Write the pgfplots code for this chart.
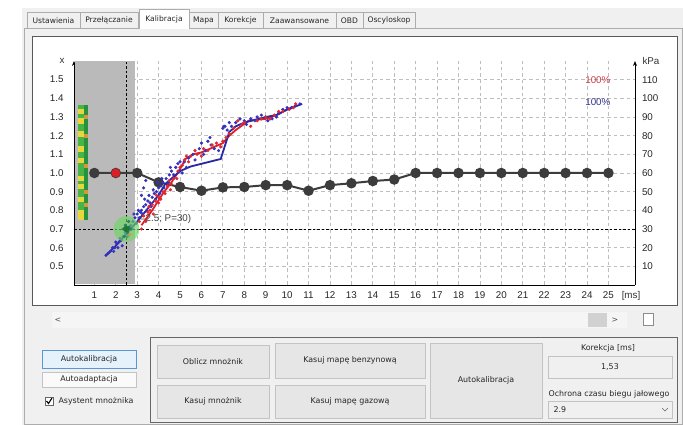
\documentclass[border=0pt]{standalone}
\usepackage{pgfplots}
\pgfplotsset{compat=1.18}
\usetikzlibrary{arrows.meta}
\usepackage{fontspec}
\setmainfont{Liberation Sans}
\newfontfamily\ui{DejaVu Sans}
\definecolor{uibg}{RGB}{240,240,240}
\definecolor{tabborder}{RGB}{172,172,172}
\definecolor{btnfill}{RGB}{230,230,230}
\definecolor{btnborder}{RGB}{195,195,195}
\definecolor{selfill}{RGB}{229,241,251}
\definecolor{selborder}{RGB}{90,150,210}
\definecolor{shade}{RGB}{186,186,186}
\definecolor{gridc}{RGB}{190,190,190}
\definecolor{curvered}{RGB}{220,30,40}
\definecolor{curveblue}{RGB}{40,40,165}
\definecolor{dotblue}{RGB}{50,50,190}
\definecolor{dotred}{RGB}{225,40,50}
\definecolor{darkser}{RGB}{60,60,60}
\definecolor{barg}{RGB}{70,180,70}
\definecolor{bargd}{RGB}{40,145,60}
\definecolor{bary}{RGB}{230,215,60}
\definecolor{baro}{RGB}{215,150,60}
\definecolor{circg}{RGB}{110,215,100}
\definecolor{circd}{RGB}{30,120,50}
\definecolor{teal1}{RGB}{40,130,100}
\definecolor{pctred}{RGB}{205,60,70}
\definecolor{pctblue}{RGB}{50,50,140}
\newcommand{\uif}{\ui\fontsize{7.9}{9}\selectfont}
\newcommand{\chf}{\fontsize{9.8}{11}\selectfont}
\begin{document}
\begin{tikzpicture}
\useasboundingbox (0,0) rectangle (683pt,425pt);
\fill[white] (0,0) rectangle (683pt,425pt);
\begin{scope}[x=1pt,y=-1pt,shift={(0pt,425pt)}]
 \fill[uibg] (22,8) rectangle (683,425);
 \draw[tabborder, fill=uibg] (24,28) rectangle (682,424);
 \foreach \a/\b/\t in {27/80/Ustawienia, 80/138/Przełączanie, 189/218/Mapa, 218/263/Korekcje, 263/336/Zaawansowane, 336/363/OBD, 363/415/Oscyloskop}{
   \draw[tabborder, fill=uibg] (\a,12) rectangle (\b,28);
   \node[font=\ui\fontsize{7.6}{9}\selectfont, text=black!85] at ({(\a+\b)/2},20.5) {\t};
 }
 \draw[tabborder, fill=white] (139,29) -- (139,9) -- (189,9) -- (189,29);
 \node[font=\ui\fontsize{7.6}{9}\selectfont, text=black!85] at (164,19) {Kalibracja};
 % chart panel
 \draw[black!65, line width=1pt, fill=white] (32,37) rectangle (677,306);
 \node[font=\chf, text=black!80] at (62,61) {x};
 \node[font=\chf, text=black!80, anchor=west] at (639,61) {kPa};
 \node[font=\chf, text=black!80] at (631,295.5) {[ms]};
 % scrollbar
 \fill[black!4] (52,312) rectangle (627,328);
 \fill[black!18] (588,313) rectangle (607,327);
 \node[font=\uif, text=black!70] at (58,320) {<};
 \node[font=\uif, text=black!70] at (615,320) {>};
 \draw[black!45, fill=white] (643,313) rectangle (653,325);
 % left buttons
 \draw[selborder, fill=selfill] (42,350) rectangle (136,368);
 \node[font=\uif, text=black!85] at (89,359) {Autokalibracja};
 \draw[btnborder, fill=black!2] (42,372) rectangle (136,387);
 \node[font=\uif, text=black!85] at (89,379.5) {Autoadaptacja};
 \draw[black!60, fill=white] (45,397) rectangle (53,405);
 \draw[black, line width=1.1pt] (46.5,401) -- (48.5,403.5) -- (52,398);
 \node[font=\uif, text=black!85, anchor=west] at (55,401) {Asystent mnożnika};
 % group box
 \draw[black!60, line width=0.9pt] (150,337) rectangle (677,422);
 \foreach \xa/\ya/\xb/\yb/\t in {157/345/269/378/Oblicz mnożnik, 157/385/269/418/Kasuj mnożnik, 275/343/425/378/Kasuj mapę benzynową, 275/385/425/418/Kasuj mapę gazową, 430/343/542/418/Autokalibracja}{
   \draw[btnborder, fill=btnfill] (\xa,\ya) rectangle (\xb,\yb);
   \node[font=\uif, text=black!85] at ({(\xa+\xb)/2},{(\ya+\yb)/2}) {\t};
 }
 \node[font=\uif, text=black!85] at (608,348) {Korekcja [ms]};
 \draw[btnborder, fill=uibg] (548,356) rectangle (672,378);
 \node[font=\uif, text=black!85] at (610,367) {1,53};
 \node[font=\uif, text=black!85] at (609,394) {Ochrona czasu biegu jałowego};
 \draw[btnborder, fill=uibg] (548,401) rectangle (672,418);
 \node[font=\uif, text=black!85, anchor=west] at (550,409.5) {2.9};
 \draw[black!60] (662,408) -- (665,411) -- (668,408);
\end{scope}

\begin{axis}[
  at={(74pt,140pt)}, anchor=south west,
  scale only axis, width=561pt, height=224pt,
  xmin=0.05, xmax=26.24, ymin=0.4, ymax=1.6,
  axis x line=bottom, axis y line=left,
  x axis line style={-, line width=0.9pt},
  y axis line style={-{Stealth[length=5pt,width=4pt]}, line width=0.9pt},
  xtick={1,2,3,4,5,6,7,8,9,10,11,12,13,14,15,16,17,18,19,20,21,22,23,24,25},
  xticklabels={1,2,3,4,5,6,7,8,9,10,11,12,13,14,15,16,17,18,19,20,21,22,23,24,25},
  ytick={0.5,0.6,0.7,0.8,0.9,1.0,1.1,1.2,1.3,1.4,1.5},
  yticklabels={0.5,0.6,0.7,0.8,0.9,1.0,1.1,1.2,1.3,1.4,1.5},
  major tick length=0pt,
  grid=major,
  major grid style={gridc, dash pattern=on 3.5pt off 3pt, line width=0.75pt},
  tick label style={font=\chf, text=black!85},
  yticklabel style={xshift=-7pt},
  xticklabel style={yshift=-3pt},
  clip=false,
]
% gray idle region
\addplot[fill=shade, draw=none] coordinates {(0.075,0.405) (0.075,1.6) (2.92,1.6) (2.92,0.405)} -- cycle;
% colour bar
\addplot[fill=barg, draw=none] coordinates {(0.24,0.75) (0.24,1.365) (0.71,1.365) (0.71,0.75)} -- cycle;
\addplot[fill=bargd, draw=none] coordinates {(0.5,0.75) (0.5,1.365) (0.71,1.365) (0.71,0.75)} -- cycle;
\addplot[only marks, mark=square*, mark size=2.1pt, bary] coordinates {
(0.36,1.33) (0.36,1.28) (0.36,1.21) (0.36,1.13) (0.36,1.07) (0.36,0.97) (0.36,0.93) (0.36,0.86) (0.36,0.79) (0.36,0.765)};
\addplot[only marks, mark=square*, mark size=1.4pt, baro] coordinates {
(0.6,1.30) (0.6,1.20) (0.6,1.04) (0.6,0.90) (0.6,0.83)};
% dashed guides
\addplot[black, dash pattern=on 2.5pt off 2pt, line width=0.8pt] coordinates {(2.5,0.4) (2.5,1.6)};
\addplot[black, dash pattern=on 2.5pt off 2pt, line width=0.8pt] coordinates {(0.05,0.7) (26.24,0.7)};
% multiplier map (black series)
\addplot[darkser, line width=2pt, mark=*, mark size=4.2pt, mark options={fill=darkser, draw=darkser}] coordinates {
(1,1.0) (2,1.0) (3,1.0) (4,0.95) (5,0.925) (6,0.905) (7,0.923) (8,0.925) (9,0.935) (10,0.935) (11,0.905) (12,0.935) (13,0.945) (14,0.957) (15,0.965) (16,1.0) (17,1.0) (18,1.0) (19,1.0) (20,1.0) (21,1.0) (22,1.0) (23,1.0) (24,1.0) (25,1.0)};
\addplot[only marks, mark=*, mark size=4.2pt, curvered] coordinates {(2,1.0)};
% scattered samples
\addplot[only marks, mark=*, mark size=1.4pt, dotblue] coordinates {
(1.55,0.56) (1.65,0.57) (1.75,0.58) (1.85,0.60) (1.95,0.60) (2.05,0.62) (2.15,0.63) (2.2,0.65) (2.35,0.66) (2.45,0.68) (2.6,0.69) (2.7,0.72) (2.8,0.74) (2.9,0.76) (3.0,0.78) (3.1,0.76) (3.2,0.80) (3.3,0.82) (3.4,0.83) (3.5,0.85) (3.6,0.84) (3.7,0.87) (3.8,0.89) (3.9,0.90) (4.0,0.92) (4.1,0.93) (4.2,0.95) (4.35,0.97) (4.5,0.99) (4.6,1.01) (4.8,1.03) (5.0,1.06) (5.2,1.06) (5.6,1.10) (5.9,1.13) (6.0,1.16) (6.2,1.12) (6.6,1.13) (7.0,1.24) (7.05,1.25) (7.3,1.27) (7.6,1.27) (8.0,1.28) (8.3,1.29) (8.6,1.30) (9.0,1.30) (9.3,1.29) (9.6,1.32) (10.0,1.35) (10.2,1.35)
(3.4,0.96) (3.3,0.92) (4.95,1.01) (5.3,1.03) (6.4,1.19) (6.45,1.15) (7.1,1.25) (3.2,0.88) (2.3,0.61) (1.9,0.58)
(2.0,0.63) (2.1,0.60) (2.25,0.64) (2.5,0.70) (2.55,0.66) (2.75,0.70) (2.85,0.78) (2.95,0.73) (3.05,0.80) (3.15,0.79) (3.25,0.78) (3.35,0.86) (3.45,0.80) (3.55,0.88) (3.65,0.82) (3.75,0.91) (3.85,0.86) (3.95,0.95) (4.05,0.89) (4.15,0.97) (4.25,0.92) (4.45,0.95) (4.55,1.03) (4.7,0.99) (4.9,1.05) (5.1,1.00) (5.4,1.08) (5.7,1.07) (6.1,1.10) (6.3,1.17) (6.8,1.12) (7.2,1.23) (7.4,1.25) (7.8,1.29) (8.1,1.26) (8.5,1.28) (8.8,1.31) (9.1,1.28) (9.5,1.30) (9.8,1.34) (10.4,1.36) (10.6,1.37)};
\addplot[only marks, mark=*, mark size=1.4pt, dotred] coordinates {
(3.1,0.74) (3.3,0.77) (3.5,0.79) (3.6,0.80) (3.7,0.83) (3.85,0.85) (4.0,0.87) (4.0,0.84) (4.2,0.90) (4.4,0.93) (4.6,0.94) (4.7,0.97) (4.85,0.97) (5.0,1.03) (5.1,1.04) (5.3,1.09) (5.5,1.09) (5.8,1.10) (6.1,1.13) (6.3,1.12) (6.7,1.16) (7.0,1.17) (7.3,1.21) (7.7,1.28) (7.9,1.26) (8.3,1.25) (8.6,1.28) (9.0,1.30) (9.4,1.31) (9.8,1.33) (10.1,1.34) (10.4,1.37)
(3.2,0.70) (3.4,0.74) (3.55,0.82) (3.75,0.78) (3.9,0.88) (4.1,0.86) (4.3,0.89) (4.5,0.96) (4.55,0.91) (4.9,1.01) (5.2,1.07) (5.4,1.06) (5.7,1.12) (6.0,1.09) (6.5,1.15) (6.9,1.14) (7.15,1.19) (7.5,1.24) (8.0,1.27) (8.8,1.29) (9.2,1.29) (9.6,1.33) (10.3,1.35)};
% fitted curves
\addplot[curvered, line width=1.8pt] coordinates {
(3.2,0.72) (3.7,0.80) (4.2,0.89) (4.6,0.95) (5.0,1.02) (5.25,1.075) (5.6,1.10) (6.0,1.11) (6.6,1.14) (7.0,1.16) (7.3,1.20) (7.6,1.23) (8.2,1.28) (9.0,1.29) (9.5,1.31) (10.0,1.34) (10.4,1.36)};
\addplot[curveblue, line width=1.8pt] coordinates {
(1.5,0.555) (2.0,0.61) (2.5,0.675) (3.0,0.74) (3.5,0.81) (4.0,0.88) (4.3,0.94) (4.7,0.98) (5.0,1.01) (5.5,1.035) (6.9,1.075) (7.3,1.22) (7.6,1.25) (8.0,1.27) (9.0,1.30) (9.5,1.31) (10.0,1.34) (10.7,1.37)};
% operating point
\addplot[only marks, mark=*, mark size=13pt, circg, mark options={fill opacity=0.65, draw opacity=0}] coordinates {(2.5,0.7)};
\addplot[only marks, mark=*, mark size=1.4pt, teal1] coordinates {
(2.45,0.72) (2.55,0.68) (2.6,0.74) (2.4,0.66) (2.7,0.70) (2.35,0.70) (2.62,0.71)};
\addplot[only marks, mark=*, mark size=1.4pt, baro] coordinates {(2.65,0.67)};
\addplot[only marks, mark=*, mark size=3pt, circd] coordinates {(2.5,0.7)};
\node[anchor=west, font=\chf, text=black!75, inner sep=0pt] at (axis cs:3.12,0.754) {=2.5; P=30)};
\node[anchor=east, font=\chf, text=pctred, inner sep=0pt] at (axis cs:25.1,1.5) {100\%};
\node[anchor=east, font=\chf, text=pctblue, inner sep=0pt] at (axis cs:25.1,1.38) {100\%};
\end{axis}

\begin{axis}[
  at={(74pt,140pt)}, anchor=south west,
  scale only axis, width=561pt, height=224pt,
  xmin=0.05, xmax=26.24, ymin=0, ymax=120,
  axis x line=none, axis y line=right,
  y axis line style={-{Stealth[length=5pt,width=4pt]}, line width=0.9pt},
  ytick={10,20,30,40,50,60,70,80,90,100,110},
  yticklabels={10,20,30,40,50,60,70,80,90,100,110},
  major tick length=0pt,
  tick label style={font=\chf, text=black!85},
  yticklabel style={xshift=3.5pt},
]
\addplot[draw=none] coordinates {(1,50)};
\end{axis}
\end{tikzpicture}
\end{document}
